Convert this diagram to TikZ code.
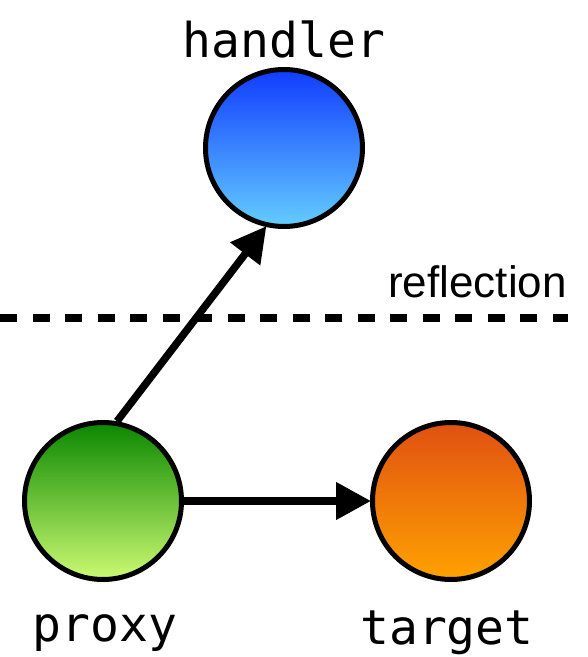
\documentclass[tikz,border=0pt]{standalone}
\usepackage{fontspec}
\setmainfont{Liberation Sans}
\newfontfamily\monofont{DejaVu Sans Mono}
\usetikzlibrary{arrows.meta}
\tikzset{
  ball/.style={circle, draw=black, line width=5pt, minimum size=157pt, inner sep=0pt},
  lbl/.style={font=\monofont\fontsize{48}{52}\selectfont, inner sep=0pt},
  conn/.style={line width=7.5pt, -{Triangle[length=35pt,width=36pt]}, shorten >=-1pt},
}
\begin{document}
\begin{tikzpicture}[x=1pt,y=1pt]
\useasboundingbox (0,0) rectangle (588,657);
\node[ball, top color={rgb,255:red,16;green,60;blue,255}, bottom color={rgb,255:red,100;green,205;blue,255}] (handler) at (284,509) {};
\node[ball, top color={rgb,255:red,10;green,135;blue,0}, bottom color={rgb,255:red,205;green,250;blue,115}] (proxy) at (103,156) {};
\node[ball, top color={rgb,255:red,224;green,80;blue,18}, bottom color={rgb,255:red,255;green,162;blue,0}] (target) at (451,156) {};
\node[lbl] (hl) at (284,618) {handler};
\node[lbl] (pl) at (105,24) {proxy};
\node[lbl] (tl) at (447,24) {target};
\node[font=\fontsize{44}{46}\selectfont, inner sep=0pt, anchor=base east] (refl) at (567,359) {reflection};
\coordinate (dl) at (0,339);
\coordinate (dr) at (568,339);
\draw[line width=7.5pt, dash pattern=on 17pt off 15.5pt] (dl) -- (dr);
\draw[conn] (proxy.80) -- (handler.257);
\draw[conn] (proxy.east) -- (target.west);
\end{tikzpicture}
\end{document}
